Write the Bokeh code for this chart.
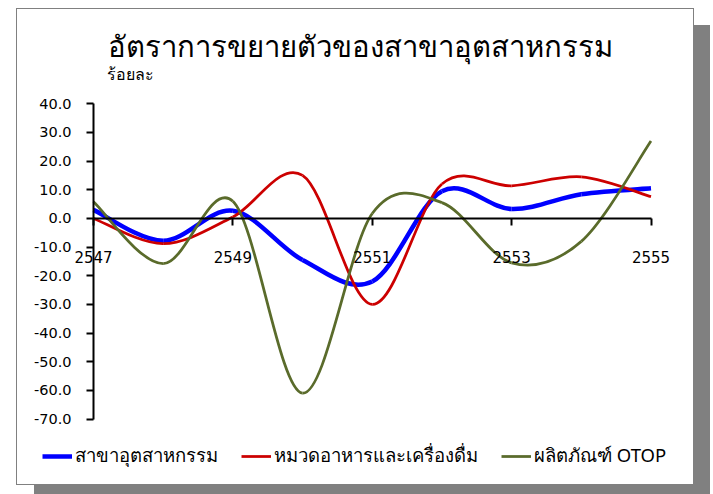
from bokeh.plotting import figure
from bokeh.models import (FixedTicker, PrintfTickFormatter, Label, Legend, LegendItem, Range1d)
from bokeh.embed import file_html
from bokeh.resources import INLINE

# ---- data ----
years = [2547, 2548, 2549, 2550, 2551, 2552, 2553, 2554, 2555]
industry = [3.0, -7.8, 2.7, -14.5, -22.0, 9.5, 3.3, 8.4, 10.5]
food_bev = [0.0, -8.8, 0.5, 15.0, -30.0, 12.0, 11.4, 14.5, 7.6]
otop = [5.8, -15.8, 6.0, -61.0, 1.7, 5.5, -15.5, -8.0, 27.0]
series_names = ["สาขาอุตสาหกรรม", "หมวดอาหารและเครื่องดื่ม", "ผลิตภัณฑ์ OTOP"]
x_ticks = [2547, 2549, 2551, 2553, 2555]
y_ticks = [-70, -60, -50, -40, -30, -20, -10, 0, 10, 20, 30, 40]
title_text = "อัตราการขยายตัวของสาขาอุตสาหกรรม"
unit_text = "ร้อยละ"

colors = ["#0000FF", "#CC0000", "#5A6B2B"]
widths = [4.5, 2.75, 2.75]
FONT = "Noto Sans"

# ---- layout (pixels inside the figure) ----
W, H = 676, 475
AX_LEFT, AX_RIGHT = 76.0, 633.5     # x pixel of first / last year
AX_TOP, AX_BOTTOM = 94.3, 409.5     # y pixel (from top) of y max / y min
x_lo, x_hi = years[0], years[-1]
y_lo, y_hi = y_ticks[0], y_ticks[-1]
xs_per_px = (x_hi - x_lo) / (AX_RIGHT - AX_LEFT)
ys_per_px = (y_hi - y_lo) / (AX_BOTTOM - AX_TOP)
x_range = Range1d(x_lo - AX_LEFT * xs_per_px, x_hi + (W - AX_RIGHT) * xs_per_px)
y_range = Range1d(y_lo - (H - AX_BOTTOM) * ys_per_px, y_hi + AX_TOP * ys_per_px)


def smooth_segments(xs, ys):
    """Bezier control points (Catmull-Rom style, like spreadsheet smoothing)."""
    n = len(xs)
    out = dict(x0=[], y0=[], x1=[], y1=[], cx0=[], cy0=[], cx1=[], cy1=[])
    for i in range(n - 1):
        xp, yp = (xs[i - 1], ys[i - 1]) if i > 0 else (xs[i], ys[i])
        xn, yn = (xs[i + 2], ys[i + 2]) if i + 2 < n else (xs[i + 1], ys[i + 1])
        out["x0"].append(xs[i]); out["y0"].append(ys[i])
        out["x1"].append(xs[i + 1]); out["y1"].append(ys[i + 1])
        out["cx0"].append(xs[i] + (xs[i + 1] - xp) / 6.0)
        out["cy0"].append(ys[i] + (ys[i + 1] - yp) / 6.0)
        out["cx1"].append(xs[i + 1] - (xn - xs[i]) / 6.0)
        out["cy1"].append(ys[i + 1] - (yn - ys[i]) / 6.0)
    return out


p = figure(width=W, height=H, output_backend="svg", toolbar_location=None,
           x_range=x_range, y_range=y_range,
           min_border_left=0, min_border_right=0, min_border_top=0, min_border_bottom=0,
           margin=(9, 0, 0, 17),
           background_fill_color="white", border_fill_color="white",
           styles={"box-shadow": "0 0 0 1px #808080, 17px 16px 0 0 #808080"})
p.outline_line_color = None
p.grid.visible = False

# axes (drawn at fixed positions inside the canvas)
p.yaxis.fixed_location = x_lo
p.yaxis.bounds = (y_lo, y_hi)
p.yaxis.ticker = FixedTicker(ticks=y_ticks)
p.yaxis.formatter = PrintfTickFormatter(format="%.1f")
p.yaxis.axis_line_width = 2
p.yaxis.major_tick_line_width = 2
p.yaxis.major_tick_in = 0
p.yaxis.major_tick_out = 7
p.yaxis.minor_tick_line_color = None
p.yaxis.major_label_text_font = "DejaVu Sans"
p.yaxis.major_label_text_font_size = "14.5px"
p.yaxis.major_label_text_color = "black"
p.yaxis.major_label_standoff = 15

p.xaxis.fixed_location = 0
p.xaxis.bounds = (x_lo, x_hi)
p.xaxis.ticker = FixedTicker(ticks=x_ticks)
p.xaxis.axis_line_width = 2
p.xaxis.major_tick_line_width = 2
p.xaxis.major_tick_in = 0
p.xaxis.major_tick_out = 7
p.xaxis.minor_tick_line_color = None
p.xaxis.major_label_text_font = "DejaVu Sans"
p.xaxis.major_label_text_font_size = "15px"
p.xaxis.major_label_text_color = "black"
p.xaxis.major_label_standoff = 26

renderers = []
for ys, c, w in zip([industry, food_bev, otop], colors, widths):
    seg = smooth_segments(years, ys)
    r = p.bezier(x0=seg["x0"], y0=seg["y0"], x1=seg["x1"], y1=seg["y1"],
                 cx0=seg["cx0"], cy0=seg["cy0"], cx1=seg["cx1"], cy1=seg["cy1"],
                 line_color=c, line_width=w)
    renderers.append(r)

legend = Legend(items=[LegendItem(label=n, renderers=[r]) for n, r in zip(series_names, renderers)],
                orientation="horizontal", location=(25, 14),
                border_line_color=None, background_fill_alpha=0,
                padding=0, margin=0, spacing=23, glyph_width=30, glyph_height=20,
                label_standoff=3, label_text_font=FONT, label_text_font_size="18.5px",
                label_text_color="black")
p.add_layout(legend, "center")

p.add_layout(Label(x=343, y=H - 36, x_units="screen", y_units="screen", text=title_text,
                   text_font=FONT, text_font_size="29.3px", text_align="center",
                   text_baseline="middle", text_color="black"))
p.add_layout(Label(x=89, y=H - 64, x_units="screen", y_units="screen", text=unit_text,
                   text_font=FONT, text_font_size="16px", text_align="left",
                   text_baseline="middle", text_color="black"))

open("out.html", "w").write(file_html(p, INLINE))
